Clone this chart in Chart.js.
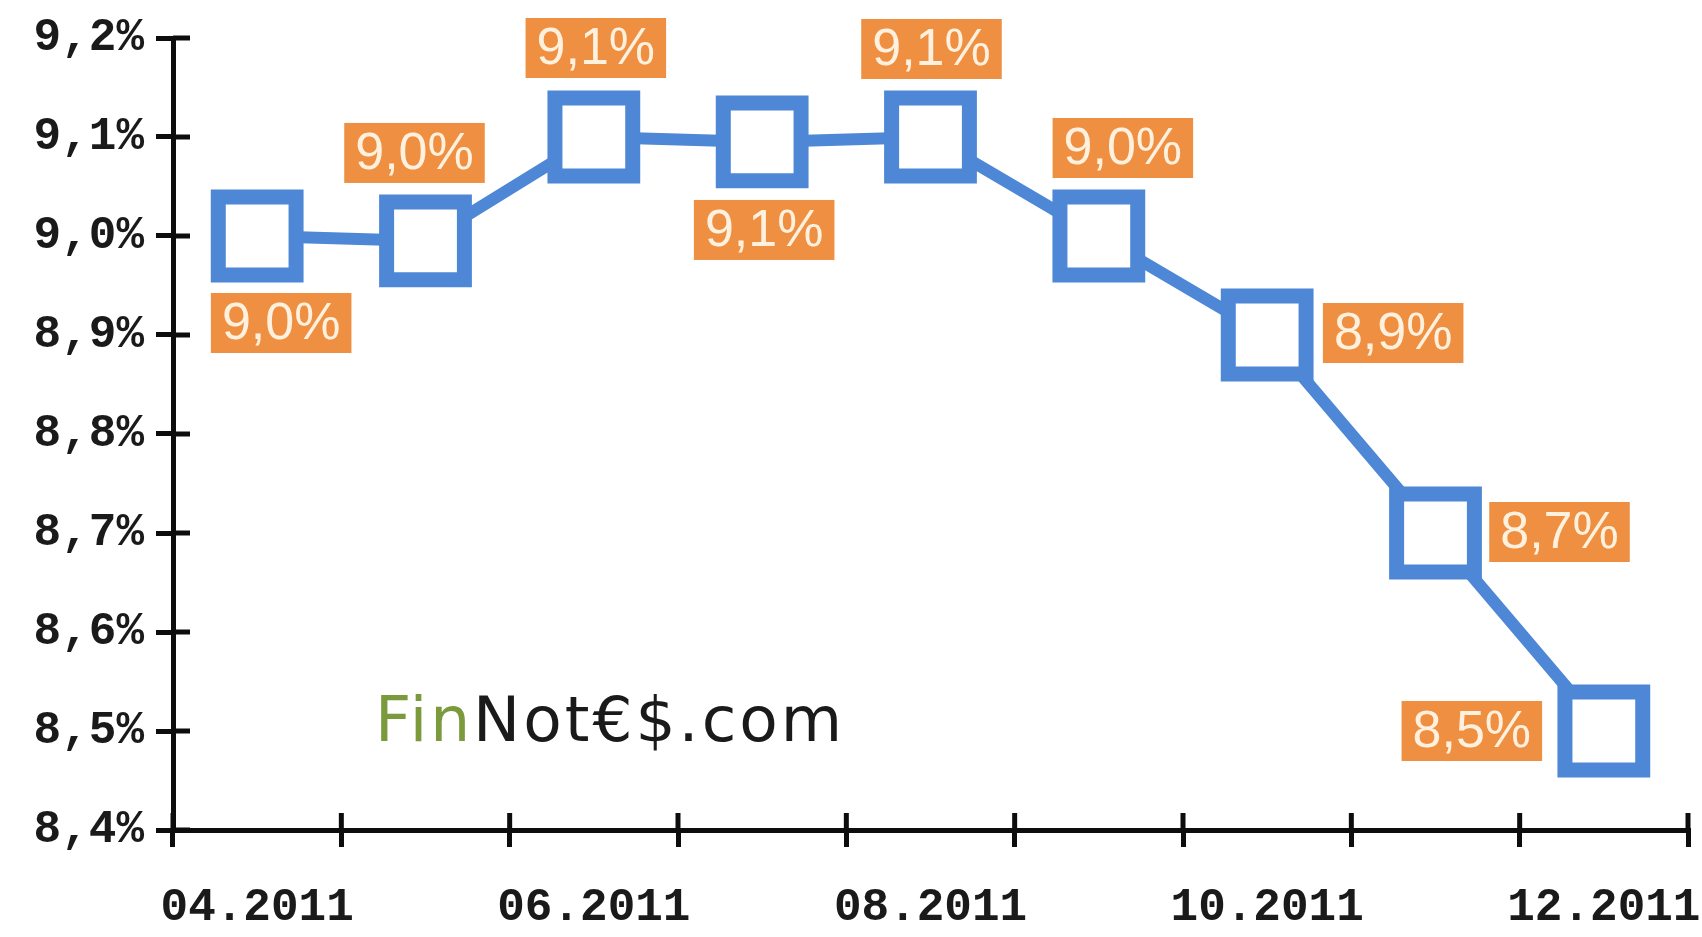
<!DOCTYPE html>
<html>
<head>
<meta charset="utf-8">
<script src="https://cdn.jsdelivr.net/npm/chart.js@4/dist/chart.umd.min.js"></script>
<style>
html,body{margin:0;padding:0;background:#fff;}
#wrap{width:1702px;height:937px;position:relative;}
</style>
</head>
<body>
<div id="wrap"><canvas id="c" width="1702" height="937"></canvas></div>
<script>
// ---- data ----
const categories = ['04.2011','05.2011','06.2011','07.2011','08.2011','09.2011','10.2011','11.2011','12.2011'];
const rateValues = [9.0, 8.995, 9.1, 9.095, 9.1, 9.0, 8.9, 8.7, 8.5];
const rateLabels = ['9,0%','9,0%','9,1%','9,1%','9,1%','9,0%','8,9%','8,7%','8,5%'];
const yTickMin = 8.4, yTickMax = 9.2, yTickStep = 0.1;

// ---- styles ----
const BLUE = '#4d87d6';
const ORANGE = '#ef8f42';
const LABEL_TEXT = '#fff1de';
const AXIS = '#0d0d0d';
// label placement relative to its point (dx, dy in px) - style, not data
const labelPlacement = [[24,87],[-11,-88],[2,-89],[2,88],[1,-88],[24,-88],[126,-2],[124,-1],[-132,0]];

const crossTicks = {
  id: 'crossTicks',
  afterDraw(chart) {
    const ctx = chart.ctx;
    const xs = chart.scales.x, ys = chart.scales.y;
    ctx.save();
    ctx.strokeStyle = AXIS;
    ctx.lineWidth = 5;
    ctx.lineCap = 'butt';
    const L = 17;
    ys.ticks.forEach(t => {
      const py = ys.getPixelForValue(t.value);
      ctx.beginPath(); ctx.moveTo(xs.left, py); ctx.lineTo(xs.left + L, py); ctx.stroke();
    });
    const n = categories.length;
    for (let i = 0; i <= n; i++) {
      const px = xs.left + i * (xs.width / n);
      ctx.beginPath(); ctx.moveTo(px, ys.bottom); ctx.lineTo(px, ys.bottom - L); ctx.stroke();
    }
    ctx.restore();
  }
};

const valueLabels = {
  id: 'valueLabels',
  afterDatasetsDraw(chart) {
    const ctx = chart.ctx;
    const meta = chart.getDatasetMeta(0);
    ctx.save();
    ctx.font = '52px "Liberation Sans", Arial, sans-serif';
    ctx.textAlign = 'center';
    ctx.textBaseline = 'middle';
    meta.data.forEach((pt, i) => {
      const txt = rateLabels[i];
      const [dx, dy] = labelPlacement[i];
      const cx = pt.x + dx, cy = pt.y + dy;
      const w = ctx.measureText(txt).width + 22;
      const h = 60;
      ctx.fillStyle = ORANGE;
      ctx.fillRect(cx - w / 2, cy - h / 2, w, h);
      ctx.fillStyle = LABEL_TEXT;
      ctx.fillText(txt, cx, cy + 2);
    });
    ctx.restore();
  }
};

const watermark = {
  id: 'watermark',
  afterDraw(chart) {
    const ctx = chart.ctx;
    const a = chart.chartArea;
    ctx.save();
    ctx.font = '63px "DejaVu Sans", sans-serif';
    try { ctx.letterSpacing = '3px'; } catch (e) {}
    ctx.textBaseline = 'alphabetic';
    ctx.textAlign = 'left';
    const x0 = a.left + 202, y0 = a.top + 703;
    ctx.fillStyle = '#7a9a3c';
    ctx.fillText('Fin', x0, y0);
    const w = ctx.measureText('Fin').width;
    ctx.fillStyle = '#1a1a1a';
    ctx.fillText('Not€$.com', x0 + w, y0);
    ctx.restore();
  }
};

const tickFont = { family: '"Liberation Mono", "Courier New", monospace', size: 46, weight: 'bold' };

new Chart(document.getElementById('c'), {
  type: 'line',
  data: {
    labels: categories,
    datasets: [{
      data: rateValues,
      borderColor: BLUE,
      borderWidth: 12,
      tension: 0,
      pointStyle: 'rect',
      pointRadius: 55,
      pointHoverRadius: 55,
      pointBorderWidth: 15,
      pointBorderColor: BLUE,
      pointBackgroundColor: '#ffffff',
      clip: false
    }]
  },
  options: {
    responsive: false,
    animation: false,
    devicePixelRatio: 1,
    layout: { autoPadding: false, padding: { top: 38, right: 14, left: 0, bottom: 0 } },
    plugins: { legend: { display: false }, tooltip: { enabled: false } },
    scales: {
      x: {
        type: 'category',
        offset: true,
        grid: { offset: true, drawOnChartArea: false, drawTicks: true, tickLength: 17, lineWidth: 5, color: AXIS },
        border: { display: true, color: AXIS, width: 5 },
        ticks: {
          autoSkip: false, maxRotation: 0, color: '#1a1a1a', font: tickFont, padding: 34,
          callback: function(v, i) { return i % 2 === 0 ? this.getLabelForValue(v) : ''; }
        },
        afterFit(scale) { scale.height = 107; scale.paddingLeft = 0; scale.paddingRight = 0; }
      },
      y: {
        min: yTickMin, max: yTickMax,
        grid: { drawOnChartArea: false, drawTicks: true, tickLength: 17, lineWidth: 5, color: AXIS },
        border: { display: true, color: AXIS, width: 5 },
        ticks: {
          stepSize: yTickStep, color: '#1a1a1a', font: tickFont, padding: 12,
          callback: v => v.toFixed(1).replace('.', ',') + '%'
        },
        afterFit(scale) { scale.width = 173; scale.paddingTop = 0; scale.paddingBottom = 0; }
      }
    }
  },
  plugins: [crossTicks, valueLabels, watermark]
});
</script>
</body>
</html>
